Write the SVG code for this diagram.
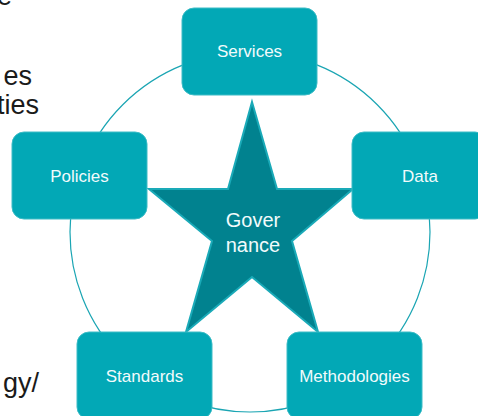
<svg xmlns="http://www.w3.org/2000/svg" width="478" height="416" viewBox="0 0 478 416">
<style>
.box{fill:#02A8B6;stroke:#3cbcc6;stroke-width:1}
.lbl{font-family:"Liberation Sans",Arial,sans-serif;font-size:17px;fill:#f2fbfc;text-anchor:middle}
.side{font-family:"Liberation Sans",Arial,sans-serif;font-size:27px;fill:#1a1a1a;text-anchor:end}
.ring{fill:none;stroke:#1aa5b3;stroke-width:1.2}
</style>
<rect width="478" height="416" fill="#ffffff"/>
<g id="side-text">
<text class="side" x="12" y="5">e</text>
<text class="side" x="32" y="85">es</text>
<text class="side" x="39" y="114">ties</text>
<text class="side" x="39" y="392">gy/</text>
</g>
<g id="connectors">
<circle class="ring" cx="250" cy="232" r="180"/>
</g>
<g id="governance">
<polygon points="252,102 277,189 353,189 292,241 318,332 252,277 186,332 212,241 149,189 228,189" fill="#01828F" stroke="#1aaab8" stroke-width="2" stroke-linejoin="miter"/>
<text class="lbl" style="font-size:20px" x="253" y="227">Gover</text>
<text class="lbl" style="font-size:20px" x="253" y="252">nance</text>
</g>
<g id="services">
<rect class="box" x="182" y="8" width="135" height="87" rx="12"/>
<text class="lbl" x="249.5" y="57">Services</text>
</g>
<g id="data">
<rect class="box" x="352" y="132" width="135" height="87" rx="12"/>
<text class="lbl" x="420" y="182">Data</text>
</g>
<g id="methodologies">
<rect class="box" x="287" y="332" width="135" height="87" rx="12"/>
<text class="lbl" x="354.5" y="382">Methodologies</text>
</g>
<g id="standards">
<rect class="box" x="77" y="332" width="135" height="87" rx="12"/>
<text class="lbl" x="144.5" y="382">Standards</text>
</g>
<g id="policies">
<rect class="box" x="12" y="132" width="135" height="87" rx="12"/>
<text class="lbl" x="79.5" y="182">Policies</text>
</g>
</svg>
